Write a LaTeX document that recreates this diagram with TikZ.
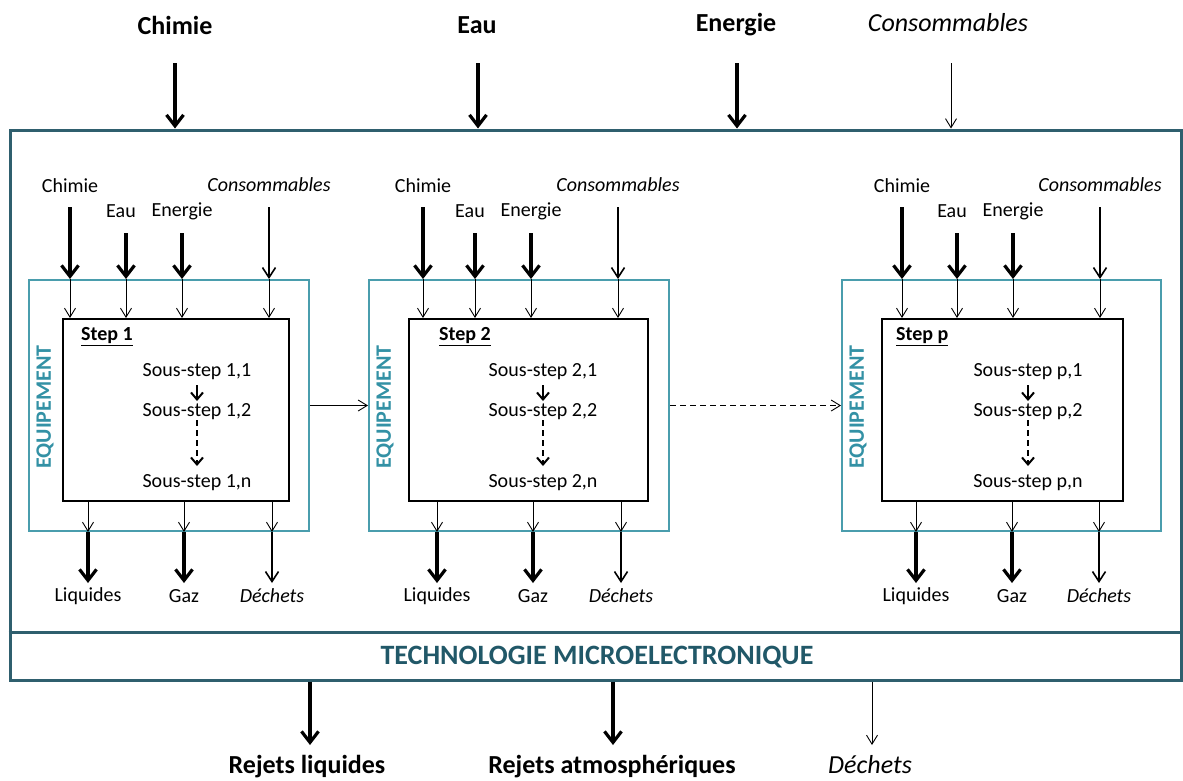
\documentclass[tikz,border=0pt]{standalone}
\usepackage{fontspec}
\setmainfont{Carlito}
\usetikzlibrary{arrows.meta}
\definecolor{outercol}{HTML}{2F5F6E}
\definecolor{equipcol}{HTML}{4A9DAD}
\definecolor{techtxt}{HTML}{215868}
\definecolor{eqtxt}{HTML}{3391A5}
\begin{document}
\begin{tikzpicture}[x=1pt,y=-1pt,
  bigarr/.style={line width=3.2pt,-{Straight Barb[length=11pt,width=17pt]}},
  medarr/.style={line width=1.6pt,-{Straight Barb[length=10pt,width=13pt]}},
  thinarr/.style={line width=0.9pt,-{Straight Barb[length=9pt,width=11pt]}},
  subarr/.style={line width=2pt,-{Straight Barb[length=7pt,width=12pt]}},
  toplbl/.style={font=\fontsize{26}{30}\selectfont\bfseries,inner sep=0pt},
  toplbli/.style={font=\fontsize{26}{30}\selectfont\itshape,inner sep=0pt},
  lbl/.style={font=\fontsize{20}{24}\selectfont,inner sep=0pt},
  lbli/.style={font=\fontsize{20}{24}\selectfont\itshape,inner sep=0pt},
  eqbox/.style={draw=equipcol,line width=2pt,minimum height=251pt,inner sep=0pt},
  stepbox/.style={draw=black,line width=2pt,minimum height=182pt,inner sep=0pt},
]
\useasboundingbox (0,0) rectangle (1183,780);
% outer system
\node[draw=outercol,line width=3pt,minimum width=1171pt,minimum height=550pt,inner sep=0pt] (sys) at (595.5,405) {};
\coordinate (sep) at (0,632);
\draw[outercol,line width=3pt] (sys.west |- sep) -- (sys.east |- sep);
\node[font=\fontsize{28}{32}\selectfont\bfseries,text=techtxt,inner sep=0pt] (tech) at (597,657) {TECHNOLOGIE MICROELECTRONIQUE};
% top inputs
\node[toplbl] (Tchim) at (175,25) {Chimie};
\node[toplbl] (Teau) at (477,25) {Eau};
\node[toplbl] (Tener) at (736,25) {Energie};
\node[toplbli] (Tcons) at (948,23) {Consommables};
\coordinate (tc1) at (175,63);
\coordinate (tc2) at (478,63);
\coordinate (tc3) at (737,63);
\coordinate (tc4) at (951,63);
\draw[bigarr] (tc1) -- (tc1 |- sys.north);
\draw[bigarr] (tc2) -- (tc2 |- sys.north);
\draw[bigarr] (tc3) -- (tc3 |- sys.north);
\draw[thinarr] (tc4) -- (tc4 |- sys.north);
% bottom outputs
\coordinate (bo1) at (310,745);
\coordinate (bo2) at (613,745);
\coordinate (bo3) at (872,745);
\draw[bigarr] (bo1 |- sys.south) -- (bo1);
\draw[bigarr] (bo2 |- sys.south) -- (bo2);
\draw[thinarr] (bo3 |- sys.south) -- (bo3);
\node[toplbl] (Bliq) at (307,767) {Rejets liquides};
\node[toplbl] (Batm) at (612,767) {Rejets atmosphériques};
\node[toplbli] (Bdec) at (870,765) {Déchets};
% modules
\foreach \m/\eL/\eR/\iL/\iR/\xa/\xb/\xc/\xd/\xl/\xg/\xw/\sL/\sX/\lab in {
  1/29/309/63/289/70/126/182/269/88/184/272/81/197/1,
  2/369/669/409/648/423/475/531/618/437/533/621/439/543/2,
  3/842/1161/882/1123/902/957/1013/1100/916/1012/1099/896/1028/p}{
  \node[eqbox,minimum width={\eR-\eL}] (eq\m) at ({(\eL+\eR)/2},405.5) {};
  \node[stepbox,minimum width={\iR-\iL}] (st\m) at ({(\iL+\iR)/2},410) {};
  \node[font=\fontsize{22}{26}\selectfont\bfseries,text=eqtxt,rotate=90,inner sep=0pt] (eqt\m) at ({\eL+16},407) {EQUIPEMENT};
  \node[font=\fontsize{20}{24}\selectfont\bfseries,inner sep=0pt,anchor=west] (stl\m) at (\sL,337) {\underline{Step \lab}};
  \node[lbl] (s1\m) at (\sX,372) {Sous-step \lab,1};
  \node[lbl] (s2\m) at (\sX,412) {Sous-step \lab,2};
  \node[lbl] (s3\m) at (\sX,483) {Sous-step \lab,n};
  \coordinate (a1\m) at (\sX,385);
  \coordinate (a2\m) at (\sX,401);
  \coordinate (a3\m) at (\sX,420);
  \coordinate (a4\m) at (\sX,466);
  \draw[subarr] (a1\m) -- (a2\m);
  \draw[subarr,dash pattern=on 6pt off 4pt] (a3\m) -- (a4\m);
  % inputs
  \node[lbl] (ch\m) at (\xa,186) {Chimie};
  \node[lbl] (ea\m) at ({\xb-5},211) {Eau};
  \node[lbl] (en\m) at (\xc,211) {Energie};
  \node[lbli] (co\m) at (\xd,185) {Consommables};
  \coordinate (ich\m) at (\xa,207);
  \coordinate (iea\m) at (\xb,233);
  \coordinate (ien\m) at (\xc,233);
  \coordinate (ico\m) at (\xd,207);
  \draw[bigarr] (ich\m) -- (ich\m |- eq\m.north);
  \draw[bigarr] (iea\m) -- (iea\m |- eq\m.north);
  \draw[bigarr] (ien\m) -- (ien\m |- eq\m.north);
  \draw[medarr] (ico\m) -- (ico\m |- eq\m.north);
  \draw[thinarr] (ich\m |- eq\m.north) -- (ich\m |- st\m.north);
  \draw[thinarr] (iea\m |- eq\m.north) -- (iea\m |- st\m.north);
  \draw[thinarr] (ien\m |- eq\m.north) -- (ien\m |- st\m.north);
  \draw[thinarr] (ico\m |- eq\m.north) -- (ico\m |- st\m.north);
  % outputs
  \coordinate (oli\m) at (\xl,583);
  \coordinate (oga\m) at (\xg,583);
  \coordinate (ode\m) at (\xw,583);
  \draw[thinarr] (oli\m |- st\m.south) -- (oli\m |- eq\m.south);
  \draw[thinarr] (oga\m |- st\m.south) -- (oga\m |- eq\m.south);
  \draw[thinarr] (ode\m |- st\m.south) -- (ode\m |- eq\m.south);
  \draw[bigarr] (oli\m |- eq\m.south) -- (oli\m);
  \draw[bigarr] (oga\m |- eq\m.south) -- (oga\m);
  \draw[medarr] (ode\m |- eq\m.south) -- (ode\m);
  \node[lbl] (li\m) at (\xl,596) {Liquides};
  \node[lbl] (ga\m) at (\xg,596) {Gaz};
  \node[lbli] (de\m) at (\xw,596) {Déchets};
}
\draw[thinarr] (eq1.east) -- (eq2.west);
\draw[thinarr,dash pattern=on 6pt off 4pt] (eq2.east) -- (eq3.west);
\end{tikzpicture}
\end{document}
